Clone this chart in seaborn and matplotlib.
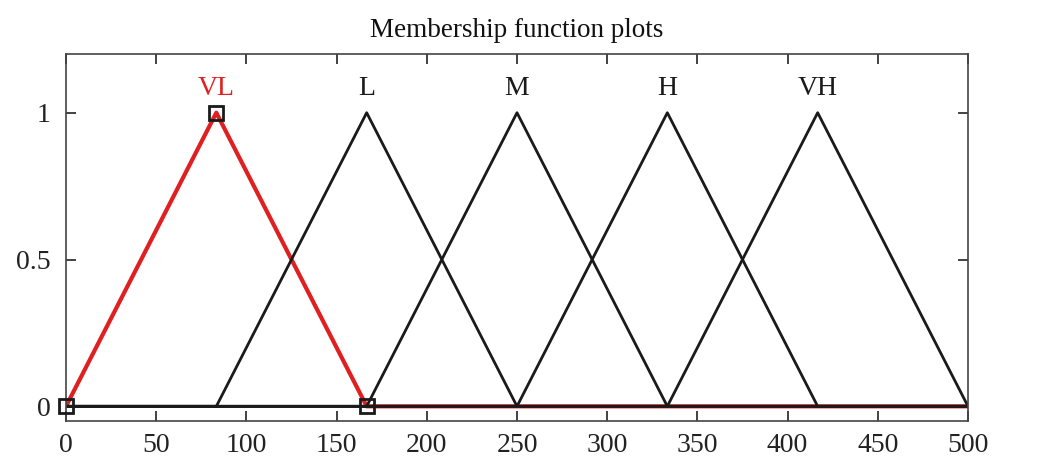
import numpy as np
import pandas as pd
import seaborn as sns
import matplotlib.pyplot as plt

# membership functions (triangular: a, b, c)
mf_names = ['VL', 'L', 'M', 'H', 'VH']
mf_a = [0, 83.33, 166.67, 250, 333.33]
mf_b = [83.33, 166.67, 250, 333.33, 416.67]
mf_c = [166.67, 250, 333.33, 416.67, 500]
x_min, x_max = 0, 500

sns.set_style('ticks')
plt.rcParams['font.family'] = ['Liberation Serif', 'DejaVu Serif']

rows = []
for name, a, b, c in zip(mf_names, mf_a, mf_b, mf_c):
    for xv, yv in zip([x_min, a, b, c, x_max], [0, 0, 1, 0, 0]):
        rows.append({'mf': name, 'x': xv, 'y': yv})
df = pd.DataFrame(rows)

fig = plt.figure(figsize=(10.44, 4.76), dpi=100)
ax = fig.add_axes([66 / 1044, 55 / 476, 902 / 1044, 367 / 476])

# selected MF in red underneath, others in black
sns.lineplot(data=df[df.mf == 'VL'], x='x', y='y', color='#e02020', lw=3,
             ax=ax, sort=False, estimator=None)
for name in mf_names[1:]:
    sns.lineplot(data=df[df.mf == name], x='x', y='y', color='#1a1a1a', lw=2,
                 ax=ax, sort=False, estimator=None)

# vertex markers on the selected MF
ax.plot([mf_a[0], mf_b[0], mf_c[0]], [0, 1, 0], ls='none', marker='s', ms=10,
        mfc='none', mec='#1a1a1a', mew=2, clip_on=False, zorder=5)

for i, (name, b) in enumerate(zip(mf_names, mf_b)):
    ax.text(b, 1.04, name, ha='center', va='bottom', fontsize=20,
            color='#e02020' if i == 0 else '#1a1a1a')

ax.set_xlim(x_min, x_max)
ax.set_ylim(-0.05, 1.2)
ax.set_xticks(np.arange(0, 501, 50))
ax.set_yticks([0, 0.5, 1])
ax.set_yticklabels(['0', '0.5', '1'])
ax.set_xlabel('')
ax.set_ylabel('')
ax.tick_params(direction='in', top=True, right=True, length=7, width=1.2,
               labelsize=20, colors='#222222')
ax.tick_params(axis='x', pad=8.5)
ax.tick_params(axis='y', pad=11)
for s in ax.spines.values():
    s.set_visible(True)
    s.set_color('#444444')
    s.set_linewidth(1.2)
ax.set_title('Membership function plots', fontsize=19.5, pad=12, color='#111111')

fig.savefig('out.png', dpi=100)
